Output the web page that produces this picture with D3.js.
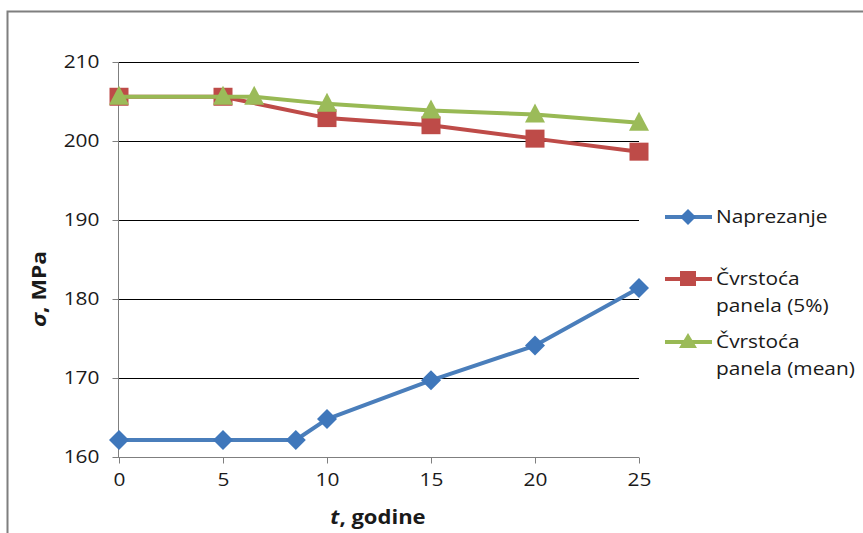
<!DOCTYPE html>
<html><head><meta charset="utf-8">
<script src="https://cdn.jsdelivr.net/npm/d3@7"></script>
<style>
html,body{margin:0;padding:0;background:#fff;}
svg text{font-family:"Open Sans",Calibri,sans-serif;fill:#1a1a1a;}
</style></head>
<body><svg id="c" width="863" height="533"></svg>
<script>
const xTicks = [0,5,10,15,20,25];
const yTicks = [160,170,180,190,200,210];

const naprezanjeT = [0,5,8.5,10,15,20,25];
const naprezanje  = [162.15,162.15,162.15,164.8,169.7,174.1,181.4];

const cvrstoca5T = [0,5,10,15,20,25];
const cvrstoca5  = [205.6,205.6,202.9,202.0,200.3,198.65];

const cvrstocaMeanT = [0,5,6.5,10,15,20,25];
const cvrstocaMean  = [205.6,205.6,205.6,204.7,203.85,203.35,202.3];

const seriesNames = ["Naprezanje", "Čvrstoća panela (5%)", "Čvrstoća panela (mean)"];

const svg = d3.select("#c");
const x = d3.scaleLinear().domain([0,25]).range([119,639]);
const y = d3.scaleLinear().domain([160,210]).range([457,62]);
const SX = 1.16;

// outer frame (top + left)
svg.append("path").attr("d","M7.5,533 V11.5 H863").attr("fill","none").attr("stroke","#7f7f7f").attr("stroke-width",2);

// gridlines
svg.append("g").selectAll("line").data(yTicks.filter(d=>d>160)).join("line")
  .attr("x1",x(0)).attr("x2",x(25)).attr("y1",d=>Math.round(y(d))+0.5).attr("y2",d=>Math.round(y(d))+0.5)
  .attr("stroke","#000").attr("stroke-width",1);

// y axis
const yAxis = d3.axisLeft(y).tickValues(yTicks).tickSize(6).tickPadding(9).tickFormat(d3.format("d"));
const gy = svg.append("g").attr("transform",`translate(${x(0)-0.5},0)`).call(yAxis);
gy.select(".domain").attr("stroke","#7f7f7f").attr("d",`M0,${y(210)}V${y(160)}`);
gy.selectAll(".tick line").attr("stroke","#7f7f7f");
gy.selectAll(".tick text").attr("font-size",18).attr("font-family","Open Sans").attr("fill","#1a1a1a")
  .attr("x",-19/SX).attr("transform",`scale(${SX},1)`);

// x axis
const xAxis = d3.axisBottom(x).tickValues(xTicks).tickSize(6).tickPadding(10).tickFormat(d3.format("d"));
const gx = svg.append("g").attr("transform",`translate(0,${y(160)+0.5})`).call(xAxis);
gx.select(".domain").attr("stroke","#7f7f7f").attr("d",`M${x(0)-6},0H${x(25)}`);
gx.selectAll(".tick line").attr("stroke","#7f7f7f");
gx.selectAll(".tick text").attr("font-size",18).attr("font-family","Open Sans").attr("fill","#1a1a1a")
  .attr("transform",`scale(${SX},1)`);

// axis titles
const xt = svg.append("text").attr("transform",`translate(378,524) scale(${SX},1)`).attr("text-anchor","middle")
  .attr("font-size",19).attr("font-weight","bold");
xt.append("tspan").attr("font-style","italic").text("t");
xt.append("tspan").text(", godine");

const yt = svg.append("text").attr("transform",`translate(46,289) rotate(-90) scale(1.2,1.05)`).attr("text-anchor","middle")
  .attr("font-size",19).attr("font-weight","bold");
yt.append("tspan").attr("font-style","italic").text("σ");
yt.append("tspan").text(", MPa");

const line = d3.line().x(d=>x(d[0])).y(d=>y(d[1]));

const series = [
  {t:naprezanjeT, v:naprezanje, color:"#4a7ebb", mcolor:"#3f77bb", sym:"diamond"},
  {t:cvrstoca5T, v:cvrstoca5, color:"#be4b48", mcolor:"#be4b48", sym:"square"},
  {t:cvrstocaMeanT, v:cvrstocaMean, color:"#98b954", mcolor:"#9bbb59", sym:"triangle"}
];

function marker(g, s, cx, cy){
  if(s.sym==="diamond"){
    g.append("path").attr("d",`M${cx},${cy-10}L${cx+10},${cy}L${cx},${cy+10}L${cx-10},${cy}Z`).attr("fill",s.mcolor);
  } else if(s.sym==="square"){
    g.append("rect").attr("x",cx-9.5).attr("y",cy-9).attr("width",19).attr("height",18).attr("fill",s.mcolor);
  } else {
    g.append("path").attr("d",`M${cx},${cy-11}L${cx+10},${cy+8}L${cx-10},${cy+8}Z`).attr("fill",s.mcolor);
  }
}

series.forEach(s=>{
  const pts = s.t.map((t,i)=>[t,s.v[i]]);
  const g = svg.append("g");
  g.append("path").attr("d",line(pts)).attr("fill","none").attr("stroke",s.color).attr("stroke-width",4).attr("stroke-linejoin","round");
  pts.forEach(p=>marker(g,s,x(p[0]),y(p[1])));
});

// legend
const legY = [217, 279, 342];
const legText = [["Naprezanje"],["Čvrstoća","panela (5%)"],["Čvrstoća","panela (mean)"]];
series.forEach((s,i)=>{
  const g = svg.append("g");
  g.append("line").attr("x1",665).attr("x2",712).attr("y1",legY[i]).attr("y2",legY[i]).attr("stroke",s.color).attr("stroke-width",4);
  if(s.sym==="diamond"){
    g.append("path").attr("d",`M688,${legY[i]-8}L696,${legY[i]}L688,${legY[i]+8}L680,${legY[i]}Z`).attr("fill",s.mcolor);
  } else if(s.sym==="square"){
    g.append("rect").attr("x",680).attr("y",legY[i]-8).attr("width",16).attr("height",15).attr("fill",s.mcolor);
  } else {
    g.append("path").attr("d",`M688,${legY[i]-9}L697,${legY[i]+6}L679,${legY[i]+6}Z`).attr("fill",s.mcolor);
  }
  legText[i].forEach((t,j)=>{
    g.append("text").attr("transform",`translate(716,${legY[i]+6+j*27}) scale(${SX},1)`).attr("font-size",18).text(t);
  });
});
</script></body></html>
